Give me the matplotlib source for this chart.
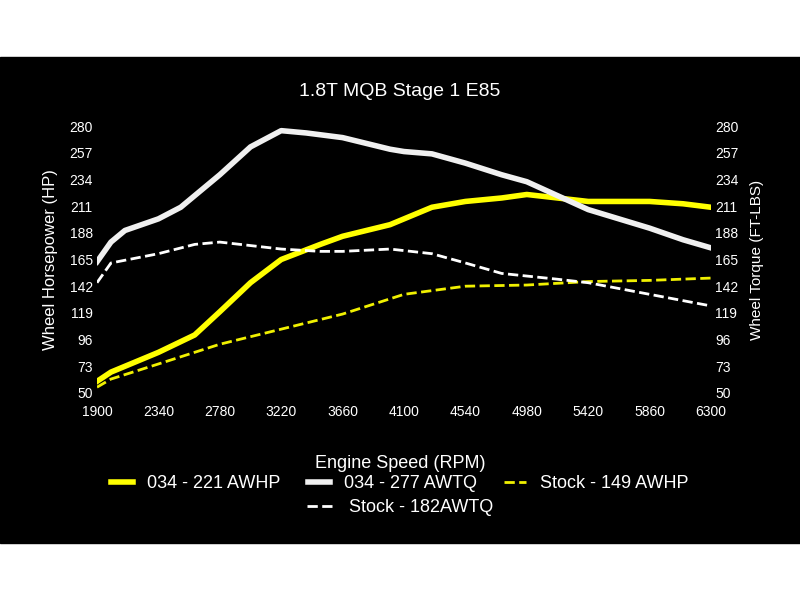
import matplotlib
matplotlib.use("Agg")
import matplotlib.pyplot as plt

plt.rcParams['font.family'] = ['Liberation Sans', 'DejaVu Sans']

rpm_hp = [1900, 2000, 2340, 2600, 2780, 3000, 3220, 3500, 3660, 4000, 4100, 4300, 4540, 4800, 4980, 5200, 5420, 5860, 6100, 6300]
hp_034 = [60, 68, 85, 100, 120, 145, 165, 178, 185, 195, 200, 210, 215, 218, 221, 218, 215, 215, 213, 210]
rpm_tq = [1900, 2000, 2100, 2340, 2500, 2780, 3000, 3220, 3400, 3660, 4000, 4100, 4300, 4540, 4800, 4980, 5200, 5420, 5860, 6100, 6300]
tq_034 = [163, 180, 190, 200, 210, 238, 262, 276, 274, 270, 260, 258, 256, 248, 238, 232, 220, 208, 192, 182, 175]
rpm_stq = [1900, 2000, 2340, 2600, 2780, 3000, 3220, 3500, 3660, 4000, 4300, 4540, 4800, 5200, 5420, 5860, 6300]
tq_stock = [145, 162, 170, 178, 180, 177, 174, 172, 172, 174, 170, 162, 153, 148, 145, 135, 125]
rpm_shp = [1900, 2000, 2340, 2780, 3220, 3660, 4100, 4540, 4980, 5420, 5860, 6300]
hp_stock = [55, 62, 75, 92, 105, 118, 135, 142, 143, 146, 147, 149]
xticks = [1900, 2340, 2780, 3220, 3660, 4100, 4540, 4980, 5420, 5860, 6300]
yticks = [50, 73, 96, 119, 142, 165, 188, 211, 234, 257, 280]

fig = plt.figure(figsize=(8, 6), dpi=100, facecolor='white')
fig.patches.append(plt.Rectangle((0, 57/600), 1, 486/600, transform=fig.transFigure, color='black', zorder=-10))
ax = fig.add_axes([97/800, 1-393/600, 614/800, 267/600])
ax.set_facecolor('black')
h0, = ax.plot(rpm_hp, hp_034, color='#ffff00', lw=4, label='034 - 221 AWHP')
h1, = ax.plot(rpm_tq, tq_034, color='#f0f0f0', lw=4, label='034 - 277 AWTQ')
h2, = ax.plot(rpm_shp, hp_stock, color='#f0f000', lw=2, ls='--', label='Stock - 149 AWHP')
h3, = ax.plot(rpm_stq, tq_stock, color='white', lw=2, ls='--', label='Stock - 182AWTQ')
ax.set_xlim(1900, 6300); ax.set_ylim(50, 280)
ax.set_xticks(xticks); ax.set_yticks(yticks)
for s in ax.spines.values(): s.set_visible(False)
ax.tick_params(colors='white', labelsize=10, length=0, pad=3)
ax.tick_params(axis='x', pad=9)
ax2 = ax.twinx()
ax2.set_ylim(50, 280); ax2.set_yticks(yticks)
for s in ax2.spines.values(): s.set_visible(False)
ax2.tick_params(colors='white', labelsize=10, length=0, pad=3)
ax.set_ylabel('Wheel Horsepower (HP)', color='white', fontsize=12, labelpad=8)
ax2.set_ylabel('Wheel Torque (FT-LBS)', color='white', fontsize=11, labelpad=8)
fig.text(0.5, 1-92/600, '1.8T MQB Stage 1 E85', color='white', fontsize=14, ha='center', va='center')
fig.text(0.5, 1-464/600, 'Engine Speed (RPM)', color='white', fontsize=13, ha='center', va='center')
fig.legend([h0, h1, h2], [h.get_label() for h in (h0, h1, h2)],
           loc='center', bbox_to_anchor=(0.5, 1-484/600), ncol=3, frameon=False,
           labelcolor='white', fontsize=13, handlelength=1.2, columnspacing=1.5)
fig.legend([h3], [h3.get_label()],
           loc='center', bbox_to_anchor=(0.5, 1-508/600), frameon=False,
           labelcolor='white', fontsize=13, handlelength=1.5)
fig.savefig('out.png', dpi=100, facecolor='white')
